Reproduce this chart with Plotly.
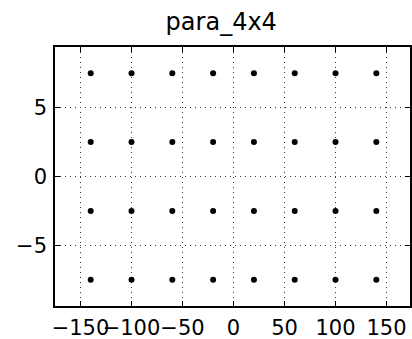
import plotly.graph_objects as go

# Grid of parameter sample points (8 columns x 4 rows)
x_positions = [-140, -100, -60, -20, 20, 60, 100, 140]
y_positions = [-7.5, -2.5, 2.5, 7.5]

xs = [x for y in y_positions for x in x_positions]
ys = [y for y in y_positions for x in x_positions]

x_ticks = [-150, -100, -50, 0, 50, 100, 150]
y_ticks = [-5, 0, 5]

def fmt(v):
    return str(v).replace("-", "\u2212")

fig = go.Figure(
    go.Scatter(
        x=xs, y=ys, mode="markers",
        marker=dict(color="black", size=6, line=dict(width=0)),
        showlegend=False,
    )
)

axis_common = dict(
    showline=True, linecolor="black", linewidth=1.5, mirror="ticks",
    ticks="inside", ticklen=5, tickwidth=1, tickcolor="black",
    showgrid=True, gridcolor="#333333", gridwidth=1, griddash="1px,4px",
    zeroline=False, automargin=False, tickangle=0,
    tickfont=dict(family="DejaVu Sans", size=21, color="black"),
)

fig.update_xaxes(
    range=[-175, 173], tickvals=x_ticks, ticktext=[fmt(v) for v in x_ticks],
    ticklabelstandoff=2, **axis_common,
)
fig.update_yaxes(
    range=[-9.4, 9.4], tickvals=y_ticks, ticktext=[fmt(v) for v in y_ticks],
    ticklabelstandoff=2, **axis_common,
)

fig.update_layout(
    width=412, height=339,
    margin=dict(l=55, r=2, t=47, b=33),
    paper_bgcolor="white", plot_bgcolor="white",
    title=dict(
        text="para_4x4", x=0.537, xanchor="center", y=0.935, yanchor="middle",
        font=dict(family="DejaVu Sans", size=24, color="black"),
    ),
)

fig.write_html("out.html")
